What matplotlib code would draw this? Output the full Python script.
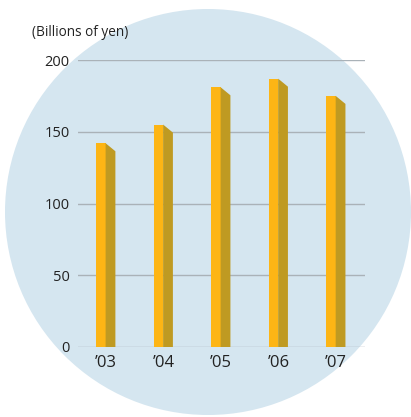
import matplotlib.pyplot as plt
from matplotlib.patches import Circle, Polygon

years = ["\u201903", "\u201904", "\u201905", "\u201906", "\u201907"]
sales = [142, 155, 181, 187, 175]
yticks = [0, 50, 100, 150, 200]

W, H = 411, 417
fig = plt.figure(figsize=(W / 100, H / 100), dpi=100)
plt.rcParams['font.family'] = ['Open Sans', 'DejaVu Sans']

# background circle, in pixel coords
bg = fig.add_axes([0, 0, 1, 1])
bg.set_xlim(0, W)
bg.set_ylim(H, 0)
bg.axis('off')
bg.add_patch(Circle((208, 212), 203, color='#d5e6f0', lw=0))

left, right, top, bottom = 78, 365, 60, 347
ax = fig.add_axes([left / W, 1 - bottom / H, (right - left) / W, (bottom - top) / H])
ax.patch.set_alpha(0)
ax.set_xlim(-0.49, 4.5)
ax.set_ylim(0, 200)

front_w = 0.16
side_w = 0.17
drop = 5.6
for i, v in enumerate(sales):
    x0 = i - 0.17
    ax.bar(x0, v, width=front_w, align='edge', color='#fdb515', lw=0, zorder=3)
    x1 = x0 + front_w
    ax.add_patch(Polygon([(x1, 0), (x1, v), (x1 + side_w, v - drop), (x1 + side_w, 0)],
                         closed=True, color='#bf9a22', lw=0, zorder=3))

for y in yticks:
    ax.axhline(y, color='#aab2b8', lw=1, zorder=1)

for s in ax.spines.values():
    s.set_visible(False)
ax.set_yticks(yticks)
ax.set_yticklabels([str(t) for t in yticks], fontsize=10.5, color='#222222')
ax.tick_params(axis='y', length=0, pad=6)
ax.set_xticks(range(len(years)))
ax.set_xticklabels(years, fontsize=12, color='#222222')
ax.tick_params(axis='x', length=0, pad=6)

fig.text(80 / W, 1 - 33 / H, '(Billions of yen)', ha='center', va='center',
         fontsize=9.8, color='#222222')

fig.savefig('out.png', dpi=100)
